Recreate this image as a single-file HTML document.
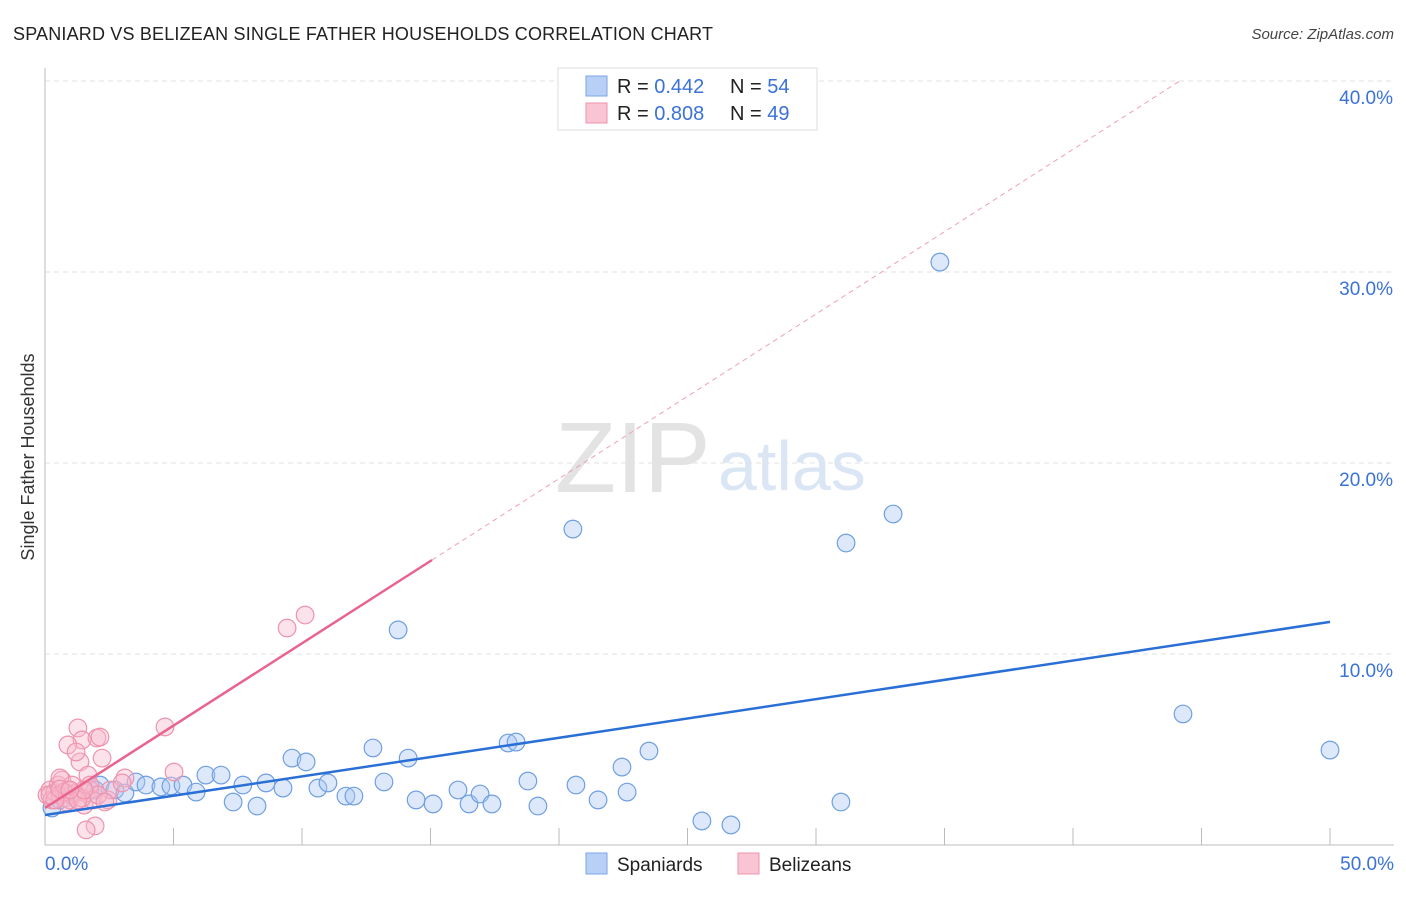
<!DOCTYPE html>
<html><head><meta charset="utf-8"><style>
body{margin:0;background:#fff;font-family:"Liberation Sans",sans-serif;}
svg text{font-family:"Liberation Sans",sans-serif;}
</style></head><body>
<svg id="chart" width="1406" height="892" viewBox="0 0 1406 892">
<text x="13" y="40" font-size="18" fill="#222" textLength="700">SPANIARD VS BELIZEAN SINGLE FATHER HOUSEHOLDS CORRELATION CHART</text>
<text x="1394" y="39" font-size="15" fill="#444" text-anchor="end" font-style="italic">Source: ZipAtlas.com</text>
<text transform="translate(34,457) rotate(-90)" font-size="18" fill="#333" text-anchor="middle">Single Father Households</text>
<g id="grid"></g>
<text x="555" y="492" font-size="100" fill="#e3e3e3" font-family="Liberation Serif">ZIP</text>
<text x="718" y="490" font-size="70" fill="#dbe6f5">atlas</text>
<g id="marks"></g>
<g>
<rect x="558" y="68" width="259" height="62" fill="#fff" stroke="#ddd"/>
<rect x="586" y="76" width="21" height="20" fill="#b8d0f5" stroke="#7aa6e8"/>
<rect x="586" y="103" width="21" height="20" fill="#f9c4d3" stroke="#ee93ad"/>
<text x="617" y="93" font-size="20" fill="#222">R = <tspan fill="#3a72d8">0.442</tspan><tspan x="730">N = </tspan><tspan fill="#3a72d8">54</tspan></text>
<text x="617" y="120" font-size="20" fill="#222">R = <tspan fill="#3a72d8">0.808</tspan><tspan x="730">N = </tspan><tspan fill="#3a72d8">49</tspan></text>
</g>
<g>
<rect x="586" y="853" width="21" height="21" fill="#b8d0f5" stroke="#7aa6e8"/>
<text x="617" y="871" font-size="19" fill="#222">Spaniards</text>
<rect x="738" y="853" width="21" height="21" fill="#f9c4d3" stroke="#ee93ad"/>
<text x="769" y="871" font-size="19" fill="#222">Belizeans</text>
</g>
</svg>
<script>
const yTicks=[10,20,30,40];
const yTickLabels=["10.0%","20.0%","30.0%","40.0%"];
const xTicks=[5,10,15,20,25,30,35,40,45,50];
const blueX=[0.27,0.58,0.97,1.95,2.14,2.72,3.11,3.54,3.93,4.51,4.9,5.37,5.88,6.26,6.85,7.32,7.7,8.25,8.6,9.26,9.61,10.16,10.62,11.01,11.71,12.02,12.76,13.19,13.74,14.13,14.44,15.1,16.07,16.5,16.93,17.39,18.02,18.33,18.79,19.18,20.54,20.66,21.52,22.45,22.65,23.5,25.56,26.69,30.97,31.17,33.0,34.82,44.28,50.0];
const blueY=[1.94,2.36,2.36,2.88,3.14,2.88,2.72,3.3,3.14,3.04,3.09,3.14,2.77,3.66,3.66,2.25,3.14,2.04,3.25,2.98,4.55,4.35,2.98,3.25,2.56,2.56,5.08,3.3,11.26,4.55,2.36,2.15,2.88,2.15,2.67,2.15,5.34,5.39,3.35,2.04,16.54,3.14,2.36,4.08,2.77,4.92,1.26,1.05,2.25,15.81,17.33,30.52,6.86,4.97];
const pinkX=[0.08,0.19,0.27,0.39,0.51,0.58,0.66,0.78,0.89,0.97,1.05,1.17,1.28,1.36,1.44,1.52,1.6,1.67,1.75,1.87,1.95,2.02,2.14,2.22,2.45,2.53,3.11,4.67,5.02,9.42,10.12,0.89,1.21,1.6,1.05,0.58,0.74,0.82,1.44,1.75,2.06,2.33,3.0,1.28,0.39,0.19,0.58,1.52,0.97];
const pinkY=[2.62,2.88,2.36,2.77,3.14,2.62,3.4,2.46,2.88,2.36,2.62,2.72,6.13,4.35,5.5,2.09,2.72,3.66,2.88,2.36,1.0,5.6,5.65,4.55,2.36,2.88,3.51,6.18,3.82,11.36,12.04,5.24,4.87,0.79,3.14,3.51,2.77,2.25,2.46,3.14,2.62,2.25,3.25,2.36,2.36,2.62,2.93,2.88,2.88];
const blueFit=[1.57,11.68];
const pinkFit=[1.94,0.862];
const X=v=>45+v*25.7, Y=v=>845-v*19.1;
const ns="http://www.w3.org/2000/svg";
const grid=document.getElementById('grid'), marks=document.getElementById('marks');
function mk(tag,attrs,parent){const e=document.createElementNS(ns,tag);for(const k in attrs)e.setAttribute(k,attrs[k]);parent.appendChild(e);return e;}
yTicks.forEach((t,i)=>{
 const l=mk('line',{x1:45,x2:1394,y1:Y(t),y2:Y(t),stroke:'#e2e2e2','stroke-dasharray':'5,4'},grid);
 
 
 const tx=mk('text',{x:1393,y:Y(t)+23,'font-size':19,fill:'#3a72d8','text-anchor':'end'},grid);
 tx.textContent=yTickLabels[i];
 
 
});
const ax=mk('line',{x1:45,x2:45,y1:68,y2:845,stroke:'#bbb'},grid);


const bx=mk('line',{x1:45,x2:1394,y1:845,y2:845,stroke:'#bbb'},grid);


xTicks.forEach(t=>{
 const l=mk('line',{x1:X(t),x2:X(t),y1:828,y2:845,stroke:'#bbb'},grid);
 
 
});
const x0=mk('text',{x:45,y:870,'font-size':19,fill:'#3a72d8'},grid);x0.textContent='0.0%';


const x1=mk('text',{x:1394,y:870,'font-size':19,fill:'#3a72d8','text-anchor':'end'},grid);x1.textContent='50.0%';


blueX.forEach((v,i)=>{
 const c=mk('circle',{cx:X(v),cy:Y(blueY[i]),r:8.8,fill:'rgba(170,200,242,0.4)',stroke:'#6f9fe3','stroke-width':1.2},marks);
 
 
});
pinkX.forEach((v,i)=>{
 const c=mk('circle',{cx:X(v),cy:Y(pinkY[i]),r:8.8,fill:'rgba(248,185,205,0.4)',stroke:'#ee93ad','stroke-width':1.2},marks);
 
 
});
const bl=mk('line',{x1:X(0),y1:Y(blueFit[0]),x2:X(50),y2:Y(blueFit[1]),stroke:'#2a6fd6','stroke-width':2.5},marks);


const pl=mk('line',{x1:X(0),y1:Y(pinkFit[0]),x2:X(15.06),y2:Y(pinkFit[0]+pinkFit[1]*15.06),stroke:'#e8648e','stroke-width':2.5},marks);


const xe=(40-pinkFit[0])/pinkFit[1];
const pd=mk('line',{x1:X(15.06),y1:Y(pinkFit[0]+pinkFit[1]*15.06),x2:X(xe),y2:Y(40),stroke:'#efa0b8','stroke-width':1,'stroke-dasharray':'5,4'},marks);


</script>
</body></html>
